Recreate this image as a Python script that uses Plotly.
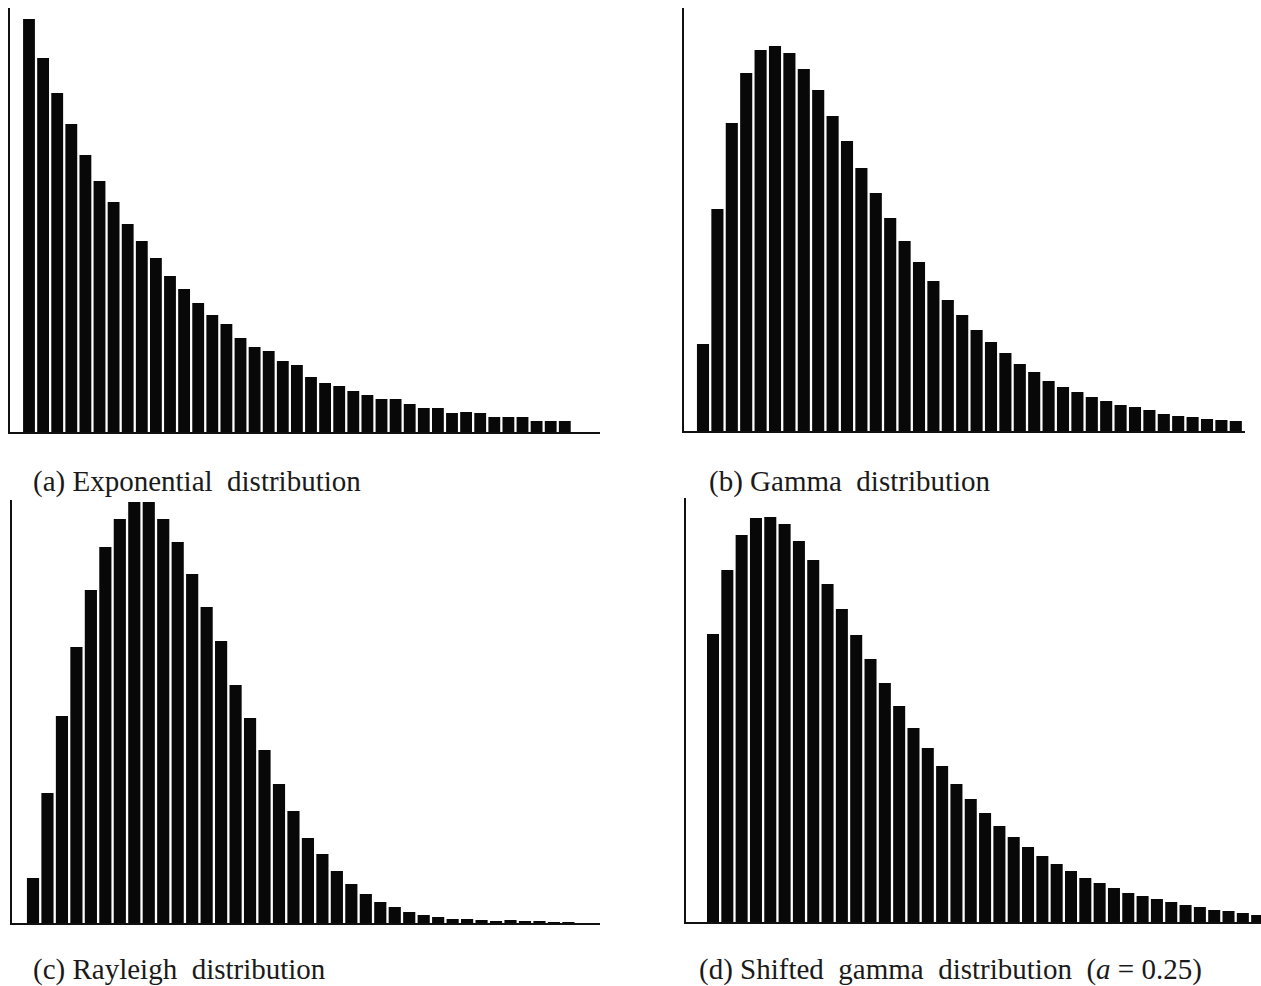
import plotly.graph_objects as go

# ---- data (relative bar heights) ----
exponential_vals = [413, 374, 339, 308, 277, 251, 230, 208, 191, 174, 156, 143, 129, 117,
                    108, 94, 85, 81, 71, 67, 55, 49, 46, 41, 37, 33, 33, 28, 24, 24,
                    19, 20, 19, 15, 15, 15, 11, 11, 11]
gamma_vals = [87, 222, 308, 358, 381, 385, 378, 362, 341, 315, 290, 263, 238, 213, 190,
              169, 150, 131, 116, 101, 89, 78, 67, 59, 50, 44, 39, 34, 30, 26, 24, 21,
              17, 15, 14, 12, 11, 10]
rayleigh_vals = [45, 130, 207, 276, 333, 376, 404, 421, 421, 404, 381, 349, 316, 282, 238,
                 205, 173, 139, 112, 85, 69, 52, 39, 29, 21, 16, 11, 8, 6, 4, 4, 3, 2, 3,
                 2, 1.5, 1, 1]
shifted_gamma_vals = [288, 352, 387, 404, 405, 398, 381, 362, 338, 313, 287, 263, 239, 216,
                      194, 174, 156, 138, 123, 109, 96, 85, 75, 66, 58, 51, 44, 39, 34, 29,
                      26, 23, 20, 17, 15, 12, 11, 9, 7]

captions = ["(a) Exponential\u00a0 distribution",
            "(b) Gamma\u00a0 distribution",
            "(c) Rayleigh\u00a0 distribution",
            "(d) Shifted\u00a0 gamma\u00a0 distribution\u00a0 (<i>a</i> = 0.25)"]

W, H = 1261, 986

# panel geometry in pixels: (axis_left, axis_right, first_bar_center, pitch, top, baseline)
panels = [
    (exponential_vals, 10, 600, 29, 14.1, 8, 432),
    (gamma_vals, 684, 1245, 703, 14.4, 8, 431),
    (rayleigh_vals, 12, 600, 33, 14.47, 500, 923),
    (shifted_gamma_vals, 686, 1261, 713, 14.32, 498, 922),
]

fig = go.Figure()
layout = dict(width=W, height=H, margin=dict(l=0, r=0, t=0, b=0),
              paper_bgcolor="white", plot_bgcolor="white", showlegend=False)

for k, (vals, xl, xr, c0, pitch, top, base) in enumerate(panels):
    n = k + 1
    xa = "xaxis" if n == 1 else f"xaxis{n}"
    ya = "yaxis" if n == 1 else f"yaxis{n}"
    xs = list(range(1, len(vals) + 1))
    fig.add_trace(go.Bar(x=xs, y=vals, width=0.84,
                         marker=dict(color="#080808", line=dict(width=0)),
                         xaxis="x" if n == 1 else f"x{n}",
                         yaxis="y" if n == 1 else f"y{n}"))
    layout[xa] = dict(domain=[xl / W, xr / W],
                      range=[1 - (c0 - xl) / pitch, 1 + (xr - c0) / pitch],
                      showline=True, linecolor="#111", linewidth=2,
                      showticklabels=False, ticks="", showgrid=False, zeroline=False,
                      anchor="y" if n == 1 else f"y{n}")
    layout[ya] = dict(domain=[1 - base / H, 1 - top / H],
                      range=[0, base - top],
                      showline=True, linecolor="#111", linewidth=2,
                      showticklabels=False, ticks="", showgrid=False, zeroline=False,
                      anchor="x" if n == 1 else f"x{n}")

cap_pos = [(31, 481), (707, 481), (31, 969), (697, 969)]
annotations = []
for text, (cx, cy) in zip(captions, cap_pos):
    annotations.append(dict(text=text, x=cx / W, y=1 - cy / H, xref="paper", yref="paper",
                            xanchor="left", yanchor="middle", showarrow=False,
                            font=dict(family="Liberation Serif, Times New Roman, serif",
                                      size=29, color="#1a1a1a")))
layout["annotations"] = annotations
fig.update_layout(**layout)

fig.write_html("out.html", config={"displayModeBar": False},
               post_script="document.body.style.margin='0';document.body.style.overflow='hidden';")
